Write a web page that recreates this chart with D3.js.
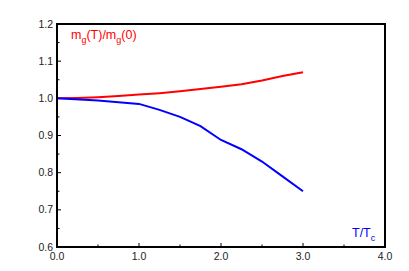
<!DOCTYPE html>
<html><head><meta charset="utf-8">
<script src="https://cdn.jsdelivr.net/npm/d3@7"></script>
<style>body{margin:0;background:#fff}svg{display:block}text{font-family:"Liberation Sans",Arial,sans-serif}</style>
</head><body><svg id="c" width="409" height="271"></svg>
<script>
const tRed = [0,0.25,0.5,0.75,1.0,1.25,1.5,1.75,2.0,2.25,2.5,2.75,3.0];
const mRed = [1.0,1.001,1.003,1.006,1.010,1.014,1.019,1.025,1.031,1.038,1.048,1.060,1.070];
const tBlue = [0,0.5,1.0,1.25,1.5,1.75,2.0,2.25,2.5,2.75,3.0];
const mBlue = [1.0,0.994,0.985,0.969,0.950,0.925,0.888,0.863,0.830,0.790,0.750];
const xTicks = [0,1,2,3,4];
const yTicks = [0.6,0.7,0.8,0.9,1.0,1.1,1.2];

const svg = d3.select("#c");
const L=57,R=385,T=24,B=247;
const x = d3.scaleLinear().domain([0,4]).range([L,R]);
const y = d3.scaleLinear().domain([0.6,1.2]).range([B,T]);

const g = svg.append("g");
const xMinor = d3.range(0.5,4,1);
const yMinor = d3.range(0.65,1.2,0.1);
g.selectAll(".xm").data(xMinor).enter().append("line")
 .attr("x1",d=>x(d)).attr("x2",d=>x(d)).attr("y1",B).attr("y2",B-2.5).attr("stroke","#000").attr("stroke-width",1);
g.selectAll(".xM").data(xTicks).enter().append("line")
 .attr("x1",d=>x(d)).attr("x2",d=>x(d)).attr("y1",B).attr("y2",B-4).attr("stroke","#000").attr("stroke-width",1);
g.selectAll(".ym").data(yMinor).enter().append("line")
 .attr("x1",L).attr("x2",L+2.5).attr("y1",d=>y(d)).attr("y2",d=>y(d)).attr("stroke","#000").attr("stroke-width",1);
g.selectAll(".yM").data(yTicks).enter().append("line")
 .attr("x1",L).attr("x2",L+4).attr("y1",d=>y(d)).attr("y2",d=>y(d)).attr("stroke","#000").attr("stroke-width",1);

g.selectAll(".xl").data(xTicks).enter().append("text")
 .attr("x",d=>x(d)).attr("y",B+13).attr("text-anchor","middle").attr("font-size",10.5).attr("fill","#222")
 .text(d=>d.toFixed(1));
g.selectAll(".yl").data(yTicks).enter().append("text")
 .attr("x",L-4).attr("y",d=>y(d)+3.5).attr("text-anchor","end").attr("font-size",10.5).attr("fill","#222")
 .text(d=>d.toFixed(1));

const line = d3.line().x(d=>x(d[0])).y(d=>y(d[1]));
svg.append("path").datum(tRed.map((t,i)=>[t,mRed[i]])).attr("d",line)
 .attr("fill","none").attr("stroke","#ff0000").attr("stroke-width",2);
svg.append("path").datum(tBlue.map((t,i)=>[t,mBlue[i]])).attr("d",line)
 .attr("fill","none").attr("stroke","#0000ff").attr("stroke-width",2);

svg.append("rect").attr("x",L).attr("y",T).attr("width",R-L).attr("height",B-T)
 .attr("fill","none").attr("stroke","#000").attr("stroke-width",2);

const lab = svg.append("text").attr("x",71).attr("y",39).attr("font-size",12.5).attr("fill","#ff0000");
lab.append("tspan").text("m");
lab.append("tspan").attr("font-size",9).attr("dy",4).text("g");
lab.append("tspan").attr("dy",-4).text("(T)/m");
lab.append("tspan").attr("font-size",9).attr("dy",4).text("g");
lab.append("tspan").attr("dy",-4).text("(0)");

const lb = svg.append("text").attr("x",352).attr("y",237).attr("font-size",12.5).attr("fill","#0000ff");
lb.append("tspan").text("T/T");
lb.append("tspan").attr("font-size",9).attr("dy",4).text("c");
</script></body></html>
